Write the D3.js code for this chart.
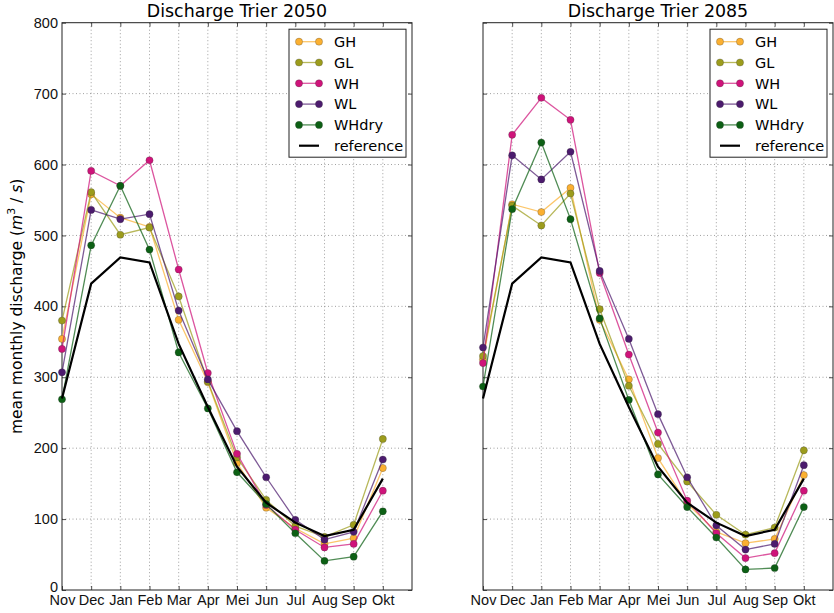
<!DOCTYPE html>
<html lang="en">
<head>
<meta charset="utf-8">
<title>Discharge Trier</title>
<script src="https://cdn.jsdelivr.net/npm/d3@7"></script>
<style>
  body { margin: 0; background: #fff; }
  svg { font-family: "DejaVu Sans", sans-serif; }
  .grid line { stroke: #888; stroke-width: 0.8; stroke-dasharray: 1,2.5; }
  .axis path { display: none; }
  .axis line { stroke: #222; stroke-width: 0.8; }
  .axis text { font-size: 14.5px; fill: #111; }
</style>
</head>
<body>
<script>
// months on the x axis (hydrological year, Nov .. Okt)
var months = ["Nov", "Dec", "Jan", "Feb", "Mar", "Apr", "Mei", "Jun", "Jul", "Aug", "Sep", "Okt"];
var yTicks = [0, 100, 200, 300, 400, 500, 600, 700, 800];
var scenarios = ["GH", "GL", "WH", "WL", "WHdry"];
var titles = ["Discharge Trier 2050", "Discharge Trier 2085"];

// observed reference discharge (same in both panels)
var reference = [270, 432, 469, 462, 347, 258, 174, 123, 95, 76, 85, 157];

// 2050 scenarios
var gh2050    = [354, 558, 525, 512, 381, 293, 179, 116, 87, 65, 73, 172];
var gl2050    = [380, 561, 501, 511, 414, 294, 187, 127, 90, 75, 92, 213];
var wh2050    = [340, 591, 570, 606, 452, 306, 192, 120, 85, 60, 65, 140];
var wl2050    = [307, 536, 523, 530, 394, 297, 224, 159, 99, 71, 82, 184];
var whdry2050 = [269, 486, 570, 480, 335, 256, 166, 121, 80, 41, 47, 111];

// 2085 scenarios
var gh2085    = [325, 544, 533, 567, 381, 297, 186, 122, 82, 66, 72, 162];
var gl2085    = [330, 542, 514, 559, 396, 288, 206, 153, 106, 78, 88, 197];
var wh2085    = [320, 642, 694, 663, 447, 332, 222, 126, 80, 45, 52, 140];
var wl2085    = [342, 613, 579, 618, 450, 354, 248, 159, 91, 57, 65, 176];
var whdry2085 = [287, 537, 631, 523, 383, 268, 163, 117, 74, 29, 31, 117];

var panels = [
    [gh2050, gl2050, wh2050, wl2050, whdry2050],
    [gh2085, gl2085, wh2085, wl2085, whdry2085]
];

var color = d3.scaleOrdinal()
    .domain(scenarios)
    .range(["#fbb031", "#9c9c1c", "#cf137a", "#4c1b6e", "#0c6014"]);

var W = 834, H = 613;
var margin = {top: 22.7, bottom: 23, left: 62},
    pw = 350,
    gap = 71;
var ph = H - margin.top - margin.bottom;

var svg = d3.select("body").append("svg")
    .attr("width", W)
    .attr("height", H);

var x = d3.scaleLinear().domain([0, 12]).range([0, pw]);
var y = d3.scaleLinear().domain([0, 800]).range([ph, 0]);

var line = d3.line()
    .x(function(d, i) { return x(i); })
    .y(function(d) { return y(d); });

panels.forEach(function(series, p) {
    var g = svg.append("g")
        .attr("transform", "translate(" + (margin.left + p * (pw + gap)) + "," + margin.top + ")");

    // grid
    var grid = g.append("g").attr("class", "grid");
    grid.selectAll(".gx").data(d3.range(1, 12)).enter().append("line")
        .attr("x1", function(d) { return x(d); })
        .attr("x2", function(d) { return x(d); })
        .attr("y1", 0).attr("y2", ph);
    grid.selectAll(".gy").data(yTicks.slice(1, -1)).enter().append("line")
        .attr("x1", 0).attr("x2", pw)
        .attr("y1", function(d) { return y(d); })
        .attr("y2", function(d) { return y(d); });

    // axes with inward ticks (all four sides)
    var xAxis = d3.axisBottom(x)
        .tickValues(d3.range(0, 12))
        .tickFormat(function(d) { return months[d]; })
        .tickSizeInner(-4).tickSizeOuter(0).tickPadding(5);
    g.append("g").attr("class", "axis")
        .attr("transform", "translate(0," + ph + ")")
        .call(xAxis)
        .selectAll("text").attr("dy", "0.71em").attr("y", 4.5);
    g.append("g").attr("class", "axis")
        .call(d3.axisTop(x).tickValues(d3.range(1, 12)).tickSizeInner(-4).tickSizeOuter(0).tickFormat(""));

    var yAxis = d3.axisLeft(y).tickValues(yTicks).tickSizeInner(-4).tickSizeOuter(0).tickPadding(4);
    if (p > 0) yAxis.tickFormat("");
    var ya = g.append("g").attr("class", "axis").call(yAxis);
    // the "0" sits a little higher, as in the original
    ya.selectAll("text").filter(function(d) { return d === 0; }).attr("dy", "0.1em");
    g.append("g").attr("class", "axis")
        .attr("transform", "translate(" + pw + ",0)")
        .call(d3.axisRight(y).tickValues(yTicks).tickSizeInner(-4).tickSizeOuter(0).tickFormat(""));

    // frame
    g.append("rect")
        .attr("width", pw).attr("height", ph)
        .attr("fill", "none").attr("stroke", "#222").attr("stroke-width", 1);

    // scenario lines and markers
    series.forEach(function(vals, k) {
        var c = color(scenarios[k]);
        g.append("path")
            .datum(vals)
            .attr("d", line)
            .attr("fill", "none")
            .attr("stroke", c)
            .attr("stroke-opacity", 0.72)
            .attr("stroke-width", 1.3);
        g.selectAll(".m" + k).data(vals).enter().append("circle")
            .attr("cx", function(d, i) { return x(i); })
            .attr("cy", function(d) { return y(d); })
            .attr("r", 3.6)
            .attr("fill", c)
            .attr("stroke", "#333")
            .attr("stroke-opacity", 0.45)
            .attr("stroke-width", 0.6);
    });

    // reference
    g.append("path")
        .datum(reference)
        .attr("d", line)
        .attr("fill", "none")
        .attr("stroke", "#000")
        .attr("stroke-width", 2.2);

    // title
    g.append("text")
        .attr("x", pw / 2).attr("y", -5.5)
        .attr("text-anchor", "middle")
        .style("font-size", "17.4px")
        .text(titles[p]);

    // legend
    var lg = g.append("g").attr("transform", "translate(" + (pw - 123) + ",6.5)");
    lg.append("rect")
        .attr("width", 117).attr("height", 128)
        .attr("fill", "#fff").attr("stroke", "#222").attr("stroke-width", 1);
    var names = scenarios.concat(["reference"]);
    var items = lg.selectAll(".li").data(names).enter().append("g")
        .attr("transform", function(d, i) { return "translate(0," + (12.5 + i * 20.8) + ")"; });
    items.append("line")
        .attr("x1", 10).attr("x2", 30)
        .attr("stroke", function(d, i) { return i < 5 ? color(d) : "#000"; })
        .attr("stroke-opacity", function(d, i) { return i < 5 ? 0.72 : 1; })
        .attr("stroke-width", function(d, i) { return i < 5 ? 1.3 : 2.2; });
    items.filter(function(d, i) { return i < 5; }).each(function(d) {
        d3.select(this).selectAll("circle").data([10, 30]).enter().append("circle")
            .attr("cx", function(v) { return v; })
            .attr("r", 3.6)
            .attr("fill", color(d))
            .attr("stroke", "#333").attr("stroke-opacity", 0.45).attr("stroke-width", 0.6);
    });
    items.append("text")
        .attr("x", 45).attr("dy", "0.36em")
        .style("font-size", "14.5px")
        .text(function(d) { return d; });
});

// y axis label with m^3/s
var yl = svg.append("text")
    .attr("transform", "translate(22," + (margin.top + ph / 2) + ") rotate(-90)")
    .attr("text-anchor", "middle")
    .style("font-size", "15.5px");
yl.append("tspan").text("mean monthly discharge (");
yl.append("tspan").style("font-style", "italic").text("m");
yl.append("tspan").attr("dy", -7).style("font-size", "11px").text("3");
yl.append("tspan").attr("dy", 7).text(" / ");
yl.append("tspan").style("font-style", "italic").text("s");
yl.append("tspan").text(")");
</script>
</body>
</html>
